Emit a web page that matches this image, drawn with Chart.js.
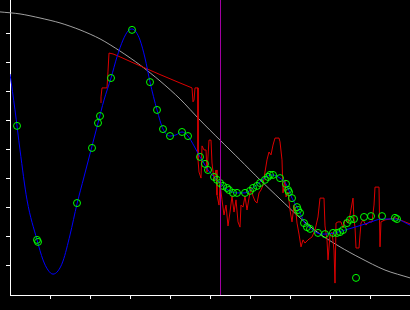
<!DOCTYPE html>
<html lang="en">
<head>
<meta charset="UTF-8">
<title>Signal fit</title>
<script src="https://cdn.jsdelivr.net/npm/chart.js@4.4.0/dist/chart.umd.min.js"></script>
<style>
    html, body { margin: 0; padding: 0; background: #000; }
    #wrap { width: 410px; height: 310px; position: relative; }
</style>
</head>
<body>
<div id="wrap"><canvas id="plot"></canvas></div>
<script>
// axis ticks (no labels in the picture)
var xTicks = [1, 2, 3, 4, 5, 6, 7, 8, 9];
var yTicks = [1, 2, 3, 4, 5, 6, 7, 8, 9];
var xMin = 0, xMax = 10;
var yMin = 0, yMax = 10.17;

// vertical marker
var cursorX = 5.2625;

// gray envelope
var grayX = [-0.25, 0.25, 0.75, 1.25, 1.75, 2.25, 2.75, 3.25, 3.75, 4.25, 4.75, 5.25, 5.75, 6.25, 6.75, 7.25, 7.75, 8.25, 8.75, 9.375, 10];
var grayY = [9.76, 9.69, 9.55, 9.38, 9.14, 8.83, 8.41, 7.93, 7.38, 6.76, 6.03, 5.34, 4.66, 3.97, 3.31, 2.66, 2.10, 1.66, 1.28, 0.86, 0.59];

// blue fit
var blueX = [0, 0.125, 0.25, 0.425, 0.675, 0.825, 0.95, 1.075, 1.2, 1.325, 1.5, 1.675, 1.85, 2.025, 2.2, 2.35, 2.525, 2.675, 2.825, 2.95, 3.05, 3.15, 3.25, 3.375, 3.5, 3.675, 3.825, 4.0, 4.15, 4.3, 4.45, 4.6, 4.75, 4.875, 4.95, 5.1, 5.275, 5.45, 5.675, 5.875, 6.075, 6.25, 6.4, 6.55, 6.75, 6.9, 7.05, 7.175, 7.25, 7.375, 7.5, 7.675, 7.875, 8.125, 8.375, 8.625, 8.95, 9.3, 9.625, 10];
var blueY = [7.62, 6.38, 5.00, 3.28, 1.90, 1.21, 0.86, 0.72, 0.83, 1.17, 2.07, 3.14, 4.07, 5.00, 5.93, 6.72, 7.48, 8.21, 8.79, 9.10, 9.17, 9.07, 8.79, 8.17, 7.34, 6.38, 5.72, 5.48, 5.52, 5.62, 5.48, 5.14, 4.76, 4.48, 4.31, 4.07, 3.83, 3.62, 3.52, 3.52, 3.69, 3.90, 4.07, 4.14, 4.03, 3.83, 3.34, 3.03, 2.83, 2.48, 2.31, 2.14, 2.10, 2.14, 2.24, 2.34, 2.48, 2.62, 2.62, 2.41];

// red measured signal
var redX = [2.275, 2.275, 2.3, 2.425, 2.45, 2.475, 2.575, 2.7, 3.25, 3.75, 4.25, 4.55, 4.575, 4.6, 4.625, 4.7, 4.7, 4.725, 4.775, 4.8, 4.85, 4.9, 4.925, 4.975, 5.025, 5.05, 5.1, 5.15, 5.175, 5.225, 5.25, 5.3, 5.35, 5.4, 5.45, 5.5, 5.55, 5.6, 5.65, 5.7, 5.75, 5.775, 5.825, 5.875, 5.925, 5.975, 6.025, 6.075, 6.125, 6.175, 6.225, 6.275, 6.325, 6.375, 6.425, 6.475, 6.525, 6.575, 6.625, 6.725, 6.75, 6.8, 6.825, 6.875, 6.9, 6.95, 7.0, 7.05, 7.1, 7.15, 7.175, 7.225, 7.275, 7.325, 7.375, 7.45, 7.55, 7.625, 7.7, 7.75, 7.85, 7.875, 7.925, 7.95, 8.0, 8.05, 8.1, 8.125, 8.15, 8.2, 8.275, 8.325, 8.375, 8.45, 8.5, 8.575, 8.6, 8.625, 8.65, 8.725, 8.75, 8.775, 8.825, 8.9, 8.975, 9.05, 9.1, 9.125, 9.225, 9.25, 9.275, 9.375, 9.5, 9.625, 9.75, 9.875, 10];
var redY = [6.62, 6.83, 7.14, 7.14, 7.72, 8.34, 8.31, 8.24, 7.90, 7.60, 7.31, 7.14, 6.66, 6.72, 7.14, 7.14, 4.66, 4.24, 4.03, 5.14, 5.00, 5.00, 4.24, 5.34, 5.34, 4.55, 3.97, 4.31, 3.45, 3.10, 3.86, 3.28, 2.76, 3.10, 2.38, 2.86, 3.41, 2.86, 3.28, 2.52, 2.34, 3.10, 3.03, 3.41, 2.93, 3.34, 3.69, 3.41, 3.24, 3.17, 3.52, 3.62, 3.79, 4.24, 4.66, 4.93, 4.83, 5.17, 5.41, 5.41, 5.28, 4.66, 3.52, 3.97, 3.38, 3.55, 2.93, 2.52, 3.10, 2.83, 2.48, 2.10, 1.66, 1.90, 1.79, 1.90, 2.00, 2.24, 2.69, 3.34, 3.34, 2.38, 1.90, 1.21, 2.07, 2.17, 1.55, 0.41, 2.48, 2.52, 2.52, 2.31, 2.59, 2.48, 2.76, 3.34, 2.59, 2.34, 1.62, 1.62, 2.07, 2.48, 2.59, 2.41, 2.52, 2.52, 3.10, 3.72, 3.72, 1.66, 2.52, 2.59, 2.62, 2.66, 2.59, 2.52, 2.45];

// green sample points
var markX = [0.175, 0.675, 0.7, 1.675, 2.05, 2.2, 2.25, 2.525, 3.05, 3.5, 3.675, 3.825, 4.0, 4.3, 4.45, 4.75, 4.875, 4.95, 5.1, 5.175, 5.25, 5.325, 5.425, 5.475, 5.575, 5.675, 5.875, 6.0, 6.075, 6.175, 6.25, 6.375, 6.45, 6.5, 6.575, 6.75, 6.9, 6.95, 6.975, 7.05, 7.175, 7.2, 7.25, 7.35, 7.425, 7.5, 7.7, 7.875, 8.075, 8.175, 8.25, 8.325, 8.425, 8.5, 8.6, 8.85, 9.025, 9.3, 9.625, 9.675, 8.65];
var markY = [5.83, 1.90, 1.83, 3.17, 5.07, 5.93, 6.17, 7.48, 9.14, 7.34, 6.38, 5.72, 5.48, 5.62, 5.48, 4.76, 4.52, 4.31, 4.07, 3.97, 3.86, 3.76, 3.69, 3.62, 3.52, 3.52, 3.52, 3.59, 3.69, 3.76, 3.86, 3.97, 4.07, 4.14, 4.14, 4.03, 3.83, 3.62, 3.55, 3.34, 3.03, 2.93, 2.83, 2.48, 2.34, 2.28, 2.14, 2.10, 2.14, 2.14, 2.17, 2.24, 2.48, 2.59, 2.62, 2.69, 2.72, 2.72, 2.66, 2.62, 0.59];

function pairs(xs, ys) {
    return xs.map(function (x, i) { return { x: x, y: ys[i] }; });
}

var ctx = document.getElementById('plot').getContext('2d');
var config = {
    type: 'scatter',
    data: {
        datasets: [{
            data: [{ x: cursorX, y: yMin }, { x: cursorX, y: yMax }],
            showLine: true,
            borderColor: '#a000a0',
            borderWidth: 1,
            pointRadius: 0,
            order: 0
        }, {
            data: pairs(markX, markY),
            showLine: false,
            pointRadius: 3.5,
            pointBorderWidth: 1,
            pointBorderColor: '#00ff00',
            pointBackgroundColor: 'rgba(0,0,0,0)',
            order: 1
        }, {
            data: pairs(blueX, blueY),
            showLine: true,
            borderColor: '#0000ff',
            borderWidth: 1,
            pointRadius: 0,
            cubicInterpolationMode: 'monotone',
            order: 2
        }, {
            data: pairs(redX, redY),
            showLine: true,
            borderColor: '#dd0000',
            borderWidth: 1,
            pointRadius: 0,
            order: 3
        }, {
            data: pairs(grayX, grayY),
            showLine: true,
            borderColor: '#a0a0a0',
            borderWidth: 1,
            pointRadius: 0,
            tension: 0.3,
            clip: false,
            order: 4
        }]
    },
    options: {
        responsive: true,
        maintainAspectRatio: false,
        animation: false,
        layout: { padding: 0, autoPadding: false },
        plugins: { legend: { display: false }, tooltip: { enabled: false } },
        scales: {
            x: {
                type: 'linear',
                min: xMin,
                max: xMax,
                afterBuildTicks: function (scale) {
                    scale.ticks = xTicks.map(function (v) { return { value: v }; });
                },
                afterFit: function (scale) { scale.height = 15; },
                ticks: { display: false },
                grid: { drawOnChartArea: false, tickLength: 4, color: '#ffffff' },
                border: { color: '#ffffff', width: 1 }
            },
            y: {
                type: 'linear',
                min: yMin,
                max: yMax,
                afterBuildTicks: function (scale) {
                    scale.ticks = yTicks.map(function (v) { return { value: v }; });
                },
                afterFit: function (scale) { scale.width = 10; },
                ticks: { display: false },
                grid: { drawOnChartArea: false, tickLength: 4, color: '#ffffff' },
                border: { color: '#ffffff', width: 1 }
            }
        }
    }
};
window.plot = new Chart(ctx, config);
</script>
</body>
</html>
